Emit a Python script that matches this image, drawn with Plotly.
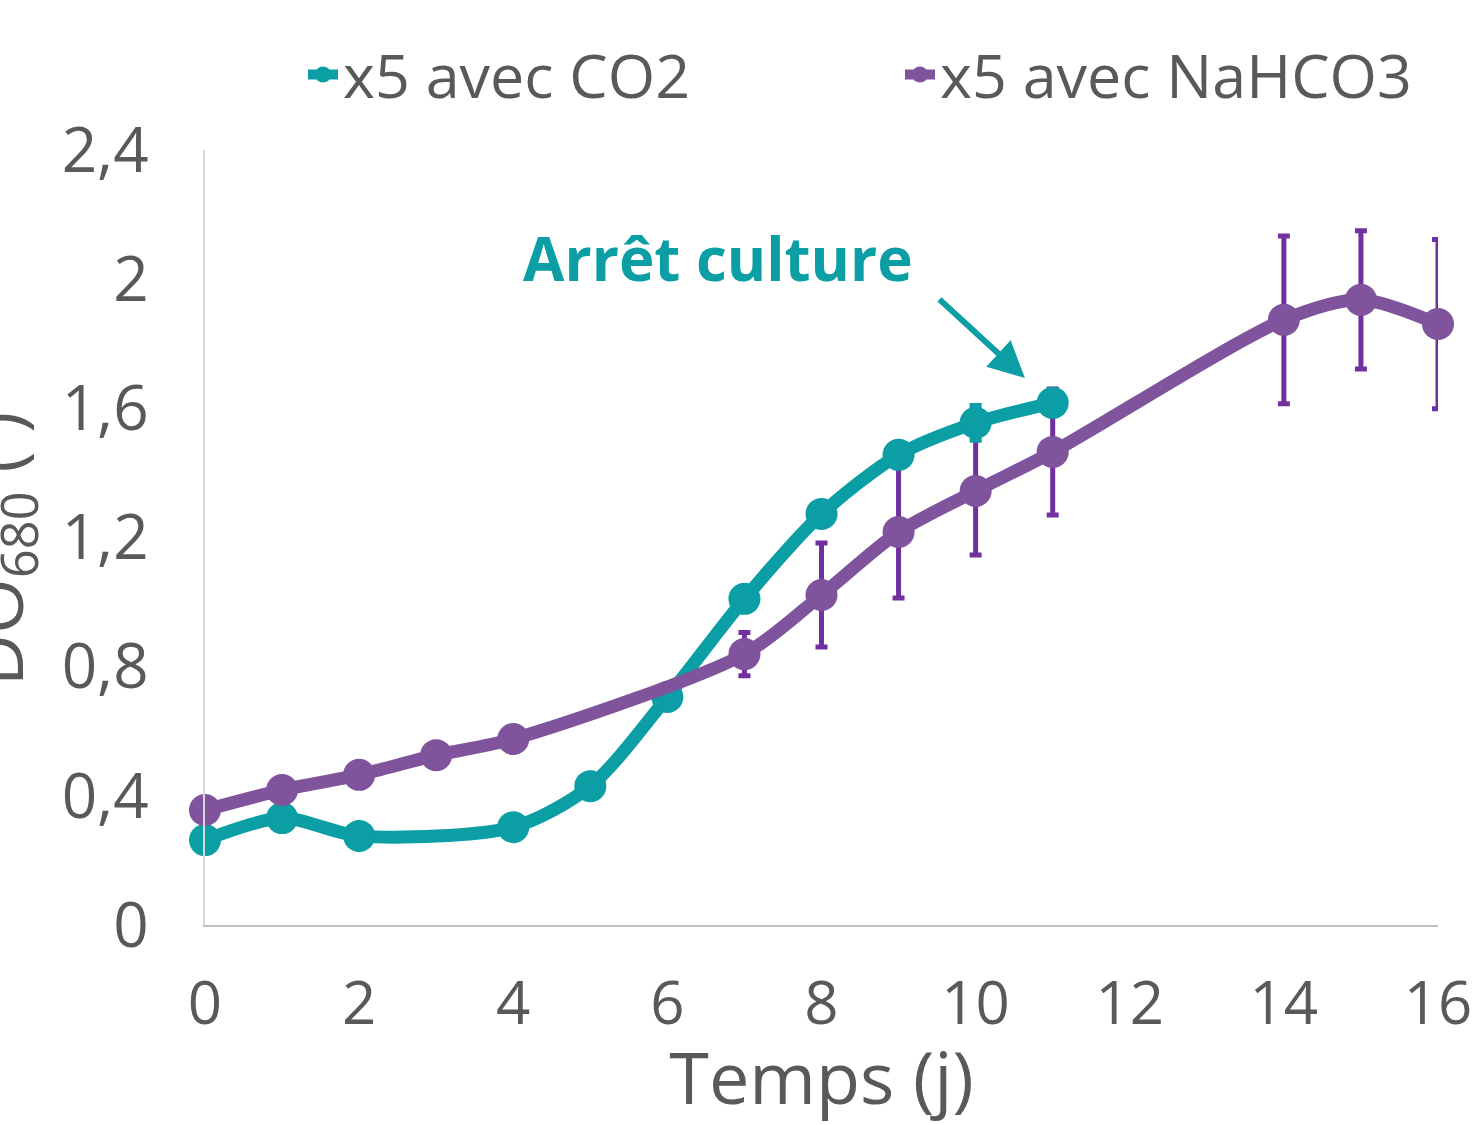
import plotly.graph_objects as go

# Data
days_co2 = [0, 1, 2, 4, 5, 6, 7, 8, 9, 10, 11]
do_co2 = [0.263, 0.331, 0.276, 0.303, 0.43, 0.706, 1.01, 1.273, 1.456, 1.555, 1.617]
err_co2 = [0, 0, 0, 0, 0, 0, 0, 0, 0, 0.054, 0]

days_nahco3 = [0, 1, 2, 3, 4, 7, 8, 9, 10, 11, 14, 15, 16]
do_nahco3 = [0.356, 0.418, 0.465, 0.526, 0.576, 0.839, 1.022, 1.217, 1.344, 1.465, 1.874, 1.936, 1.861]
err_nahco3 = [0, 0, 0, 0, 0, 0.067, 0.161, 0.204, 0.198, 0.195, 0.26, 0.214, 0.262]

y_ticks = [0, 0.4, 0.8, 1.2, 1.6, 2.0, 2.4]
y_ticktext = ["0", "0,4", "0,8", "1,2", "1,6", "2", "2,4"]
x_ticks = [0, 2, 4, 6, 8, 10, 12, 14, 16]

TEAL = "#0B9EA5"
PURPLE = "#7F549C"
ERR = "#7030A0"
GRAY = "#595959"
FONT = "Open Sans"

fig = go.Figure()

# purple error bars drawn beneath
fig.add_trace(go.Scatter(
    x=days_nahco3, y=do_nahco3, mode="markers",
    marker=dict(size=1, color="rgba(0,0,0,0)"),
    error_y=dict(type="data", array=err_nahco3, color=ERR, thickness=5, width=6),
    showlegend=False, hoverinfo="skip", cliponaxis=False,
))

fig.add_trace(go.Scatter(
    x=days_co2, y=do_co2, mode="lines+markers", name="x5 avec CO2",
    line=dict(color=TEAL, width=13, shape="spline", smoothing=0.8),
    marker=dict(color=TEAL, size=32),
    error_y=dict(type="data", array=err_co2, color=TEAL, thickness=5, width=6),
    cliponaxis=False, legend="legend",
))

fig.add_trace(go.Scatter(
    x=days_nahco3, y=do_nahco3, mode="lines+markers", name="x5 avec NaHCO3",
    line=dict(color=PURPLE, width=13, shape="spline", smoothing=0.8),
    marker=dict(color=PURPLE, size=32),
    cliponaxis=False, legend="legend2",
))

leg_common = dict(orientation="h", yanchor="middle", xanchor="left", y=1.097,
                  font=dict(size=61, color=GRAY, family=FONT),
                  itemsizing="trace", bgcolor="rgba(0,0,0,0)")

fig.update_layout(
    width=1472, height=1125,
    paper_bgcolor="white", plot_bgcolor="white",
    margin=dict(l=205, r=34, t=150, b=200, autoexpand=False),
    font=dict(family=FONT, color=GRAY, size=60),
    showlegend=True,
    legend=dict(x=(303 - 205) / 1233, **leg_common),
    legend2=dict(x=(900 - 205) / 1233, **leg_common),
    xaxis=dict(range=[0, 16], tickvals=x_ticks, showgrid=False, zeroline=False,
               showline=True, linecolor="#BFBFBF", linewidth=2, ticks="",
               automargin=False, ticklabelstandoff=25, ticklabeloverflow="allow",
               tickfont=dict(size=60, color=GRAY),
               title=dict(text="Temps (j)", font=dict(size=72, color=GRAY), standoff=6)),
    yaxis=dict(range=[0, 2.4], tickvals=y_ticks, ticktext=y_ticktext, showgrid=False,
               zeroline=False, showline=True, linecolor="#D9D9D9", linewidth=2, ticks="",
               automargin=False, ticklabelstandoff=42, ticklabeloverflow="allow",
               tickfont=dict(size=62, color=GRAY)),
    annotations=[
        dict(text="DO<sub>680</sub> ( )", textangle=-90, xref="paper", yref="paper",
             x=-0.167, y=0.485, xanchor="center", yanchor="middle", showarrow=False,
             font=dict(size=72, color=GRAY)),
        dict(text="<b>Arrêt culture</b>", xref="x", yref="y", x=6.66, y=2.066,
             showarrow=False, font=dict(size=60, color=TEAL)),
        dict(text="", xref="x", yref="y", x=10.64, y=1.694, ax=-87, ay=-80,
             showarrow=True, arrowhead=2, arrowsize=1.2, arrowwidth=6, arrowcolor=TEAL),
    ],
)

fig.write_html("out.html", config={"displayModeBar": False},
               post_script="document.body.style.margin='0';")
